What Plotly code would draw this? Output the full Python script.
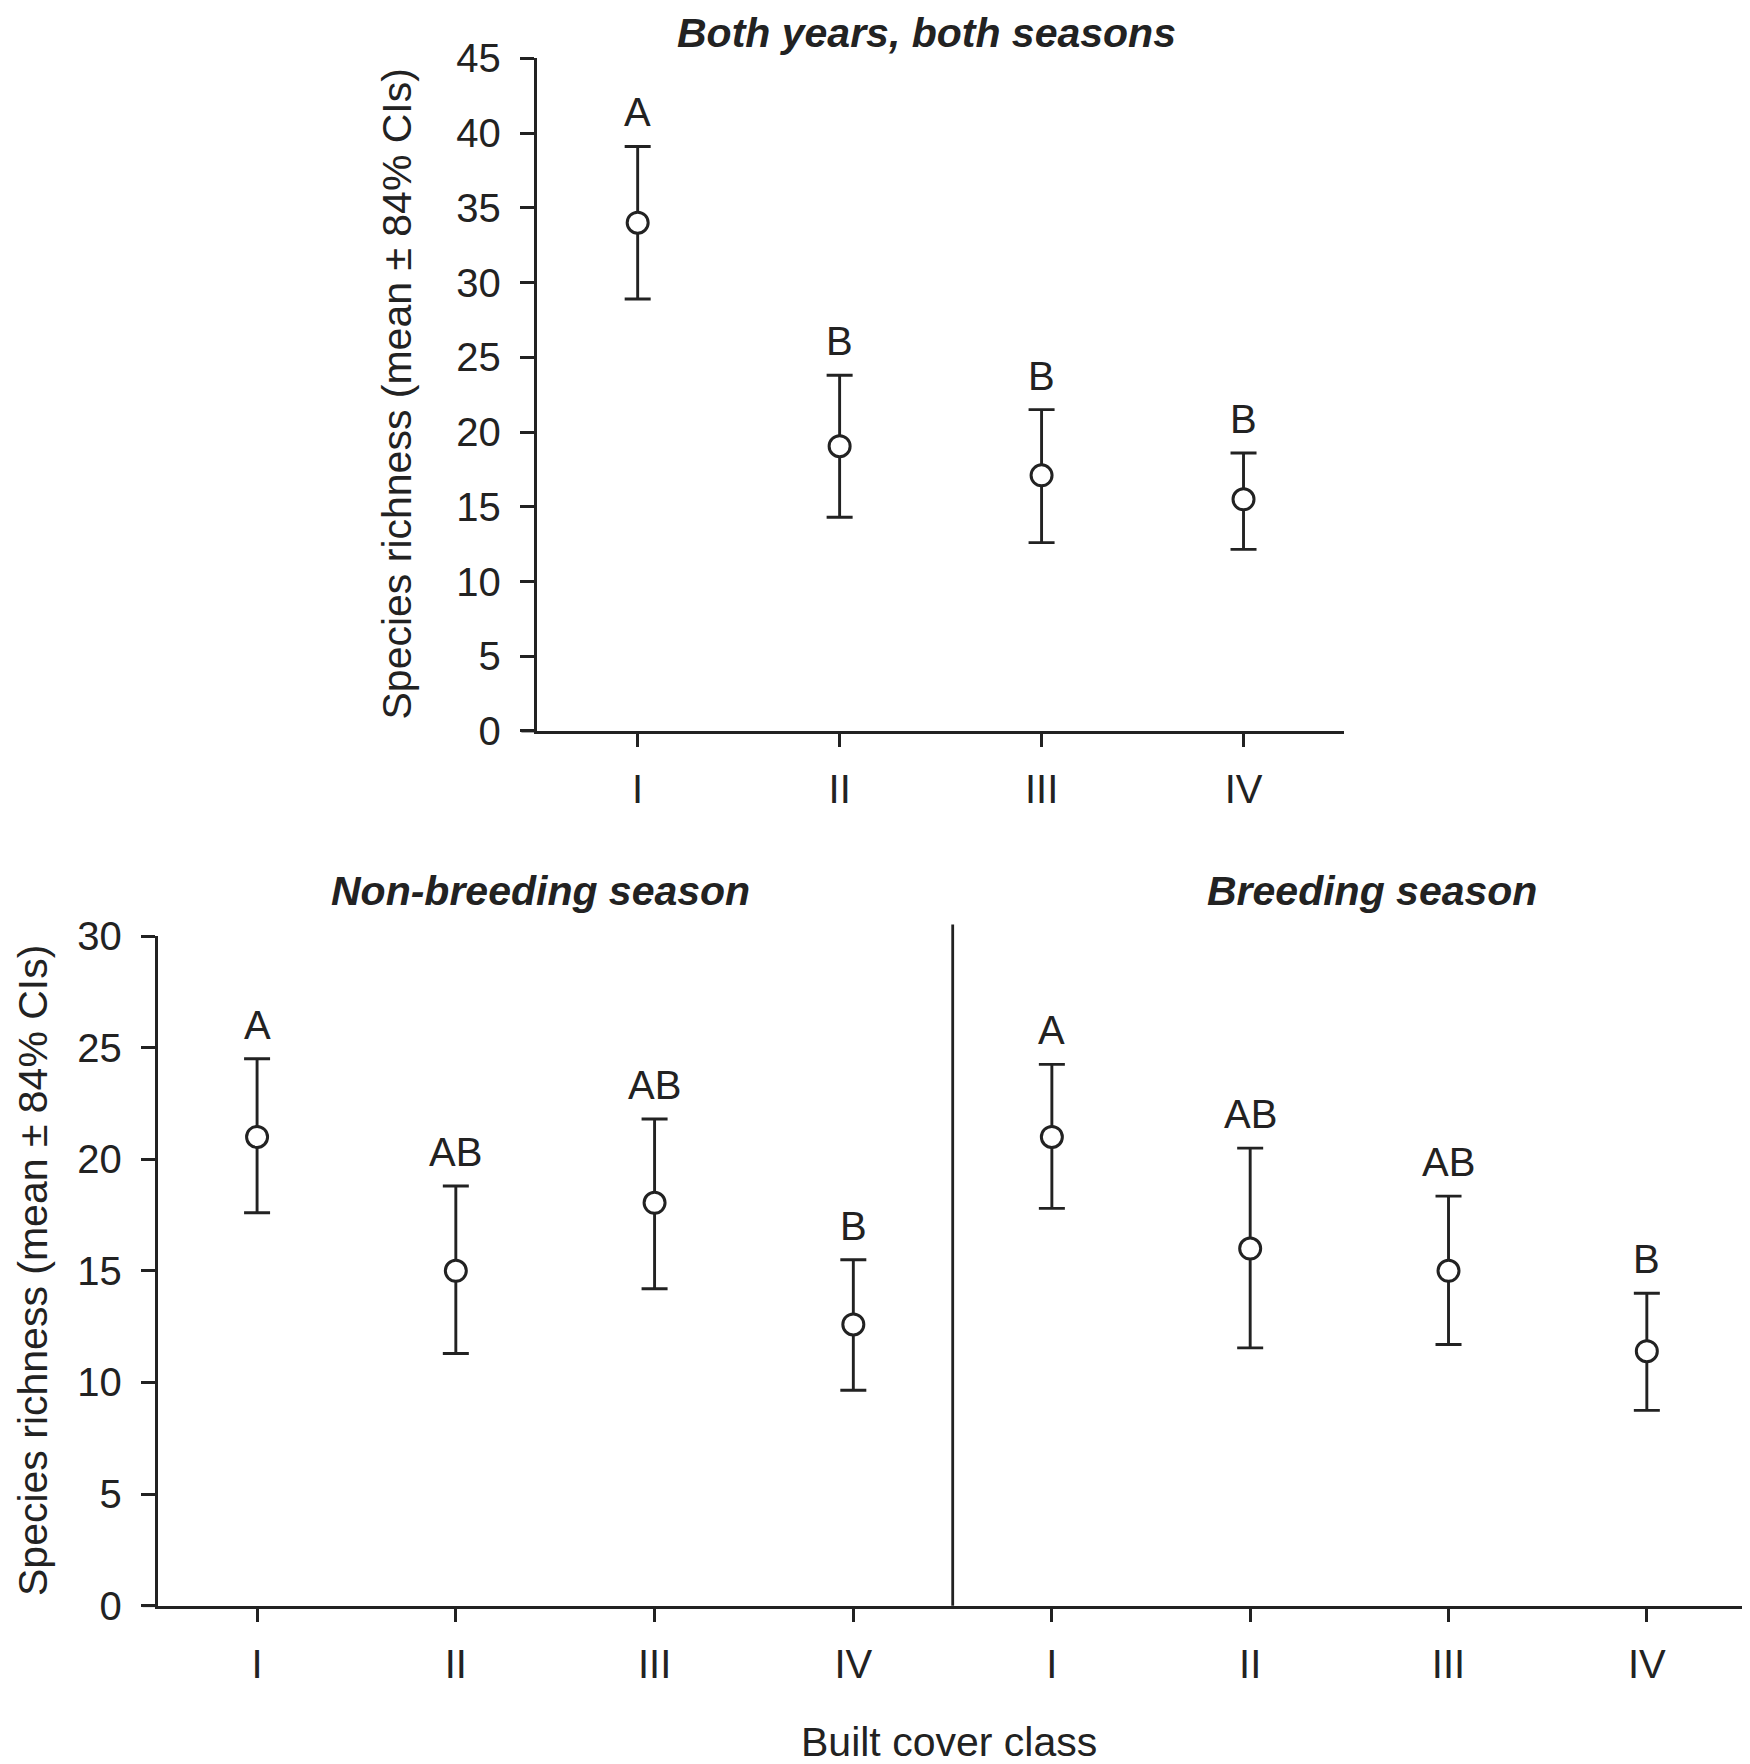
import plotly.graph_objects as go

# 数据
classes = ['I', 'II', 'III', 'IV']

all_mean = [34.0, 19.05, 17.1, 15.5]
all_upper = [39.1, 23.8, 21.5, 18.6]
all_lower = [28.9, 14.3, 12.6, 12.15]
all_letters = ['A', 'B', 'B', 'B']

nonbreed_mean = [21.0, 15.0, 18.05, 12.6]
nonbreed_upper = [24.5, 18.8, 21.8, 15.5]
nonbreed_lower = [17.6, 11.3, 14.2, 9.65]
nonbreed_letters = ['A', 'AB', 'AB', 'B']

breed_mean = [21.0, 16.0, 15.0, 11.4]
breed_upper = [24.25, 20.5, 18.35, 14.0]
breed_lower = [17.8, 11.55, 11.7, 8.75]
breed_letters = ['A', 'AB', 'AB', 'B']

ytitle = 'Species richness (mean ± 84% CIs)'
ink = '#222222'
font_family = 'Liberation Sans, Arial, sans-serif'

panels = [
    ('x', 'y', all_mean, all_upper, all_lower, all_letters),
    ('x2', 'y2', nonbreed_mean, nonbreed_upper, nonbreed_lower, nonbreed_letters),
    ('x3', 'y3', breed_mean, breed_upper, breed_lower, breed_letters),
]

fig = go.Figure()
annotations = []
for xa, ya, mean, upper, lower, letters in panels:
    fig.add_trace(go.Scatter(
        x=classes, y=mean, xaxis=xa, yaxis=ya,
        mode='markers',
        marker=dict(symbol='circle', size=21, color='white',
                    line=dict(width=3, color=ink)),
        error_y=dict(type='data', symmetric=False,
                     array=[u - m for u, m in zip(upper, mean)],
                     arrayminus=[m - l for m, l in zip(mean, lower)],
                     thickness=2.9, width=13, color=ink),
        showlegend=False, cliponaxis=False,
    ))
    for c, u, t in zip(classes, upper, letters):
        annotations.append(dict(x=c, y=u, xref=xa, yref=ya, text=t,
                                showarrow=False, yanchor='middle', yshift=34,
                                font=dict(size=40, color=ink)))

# 面板标题和轴标题
def label(text, x, y, bold=False, angle=0, xanchor='center', yanchor='middle'):
    if bold:
        text = '<b><i>' + text + '</i></b>'
    return dict(text=text, x=x, y=y, xref='paper', yref='paper',
                showarrow=False, xanchor=xanchor, yanchor=yanchor,
                textangle=angle, font=dict(size=41, color=ink))

annotations += [
    label('Both years, both seasons', 0.52514, 1.0, bold=True, yanchor='top'),
    label('Non-breeding season', 0.304, 0.49943, bold=True),
    label('Breeding season', 0.77943, 0.49943, bold=True),
    label('Built cover class', 0.53771, 0.01700),
    label(ytitle, 0.22229, 0.78089, angle=-90),
    label(ytitle, 0.0, 0.28401, angle=-90, xanchor='left'),
]

xcommon = dict(type='category', range=[-0.5, 3.5], showline=True, linewidth=2.8,
               linecolor=ink, ticks='outside', ticklen=13, tickwidth=2.6,
               tickcolor=ink, showgrid=False, zeroline=False,
               tickfont=dict(size=40, color=ink), ticklabelstandoff=8)
ycommon = dict(showline=True, linewidth=2.8, linecolor=ink, ticks='outside',
               ticklen=14, tickwidth=2.6, tickcolor=ink, showgrid=False,
               zeroline=False, tickfont=dict(size=40, color=ink),
               ticklabelstandoff=11)

# 分隔线和向左伸出的x轴线
shapes = [
    dict(type='line', xref='x3 domain', yref='y3 domain', x0=0, x1=0,
         y0=0, y1=1.017, line=dict(color=ink, width=2.8)),
    dict(type='line', xref='x domain', yref='y domain', x0=-0.019, x1=0,
         y0=0, y1=0, line=dict(color=ink, width=2.8)),
    dict(type='line', xref='x2 domain', yref='y2 domain', x0=-0.019, x1=0,
         y0=0, y1=0, line=dict(color=ink, width=2.8)),
]

fig.update_layout(
    width=1750, height=1764,
    margin=dict(l=0, r=0, t=0, b=0, autoexpand=False),
    paper_bgcolor='white', plot_bgcolor='white',
    font=dict(family=font_family, color=ink),
    xaxis=dict(xcommon, domain=[0.30211, 0.76371], anchor='y'),
    yaxis=dict(ycommon, domain=[0.59014, 0.97149], anchor='x',
               range=[0, 45], tickvals=list(range(0, 46, 5))),
    xaxis2=dict(xcommon, domain=[0.08554, 0.53983], anchor='y2'),
    yaxis2=dict(ycommon, domain=[0.09427, 0.47392], anchor='x2',
                range=[0, 30], tickvals=list(range(0, 31, 5))),
    xaxis3=dict(xcommon, domain=[0.53983, 0.99314], anchor='y3'),
    yaxis3=dict(ycommon, domain=[0.09427, 0.47392], anchor='x3',
                range=[0, 30], showline=False, ticks='', showticklabels=False),
    annotations=annotations,
    shapes=shapes,
)

fig.write_html('out.html')
